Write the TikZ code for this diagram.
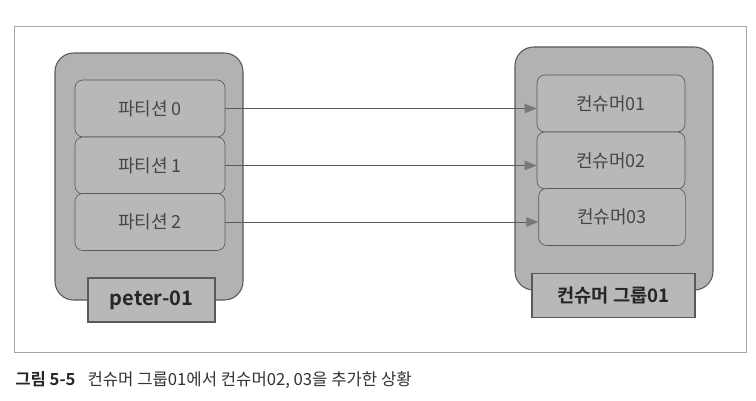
\documentclass[tikz,border=0pt]{standalone}
\usepackage{fontspec}
\setmainfont{Noto Sans CJK KR}
\newfontfamily\kbold{Noto Sans CJK KR Bold}
\usetikzlibrary{arrows.meta}
\definecolor{boxgray}{RGB}{178,178,178}
\definecolor{innergray}{RGB}{184,184,184}
\definecolor{edgegray}{RGB}{90,90,90}
\definecolor{txtgray}{RGB}{70,70,70}
\definecolor{tipgray}{RGB}{120,120,120}
\tikzset{
  x=0.75pt, y=-0.75pt,
  container/.style={draw=edgegray, line width=0.8pt, fill=boxgray, rounded corners=14pt},
  item/.style={draw=edgegray, line width=0.5pt, fill=innergray, rounded corners=6pt, text=txtgray, font=\fontsize{13.5}{15}\selectfont},
  tag/.style={draw=edgegray, line width=1.2pt, fill=innergray, text=black!85, font=\kbold\fontsize{14}{16}\selectfont},
  conn/.style={draw=edgegray, line width=0.6pt, -{Triangle[length=9pt,width=7pt,fill=tipgray,color=tipgray]}}
}
\begin{document}
\begin{tikzpicture}
\useasboundingbox (0,0) rectangle (756,400);
\fill[white] (0,0) rectangle (756,400);
\draw[gray!70, line width=0.5pt] (14,26) rectangle (746,352);
% left container
\path[container] (55,53) rectangle (243,300);
\node[item, minimum width=112.5pt, minimum height=42.75pt] (p0) at (150,108.5) {파티션 0};
\node[item, minimum width=112.5pt, minimum height=42.75pt] (p1) at (150,165.5) {파티션 1};
\node[item, minimum width=112.5pt, minimum height=42.75pt] (p2) at (150,222) {파티션 2};
\node[tag, minimum width=95pt, minimum height=33pt, font=\kbold\fontsize{15}{17}\selectfont] (lt) at (151.5,300) {peter-01};
% right container
\path[container] (515,47) rectangle (713,290);
\node[item, minimum width=111pt, minimum height=42.75pt] (c1) at (611,103.5) {컨슈머01};
\node[item, minimum width=111pt, minimum height=42.75pt] (c2) at (611,160.5) {컨슈머02};
\node[item, minimum width=110pt, minimum height=42.75pt] (c3) at (612,217) {컨슈머03};
\node[tag, minimum width=122pt, minimum height=33pt] (rt) at (613.5,295.5) {컨슈머 그룹01};
% connectors
\draw[conn] (p0.east) -- (p0.east -| c1.west);
\draw[conn] (p1.east) -- (p1.east -| c2.west);
\draw[conn] (p2.east) -- (p2.east -| c3.west);
% caption
\node[anchor=west, inner sep=0pt, font=\fontsize{12.5}{14}\selectfont] (cap) at (15,380) {{\kbold\color{black!85}그림 5-5}\hspace{9pt}{\color{black!80}컨슈머 그룹01에서 컨슈머02, 03을 추가한 상황}};
\end{tikzpicture}
\end{document}
